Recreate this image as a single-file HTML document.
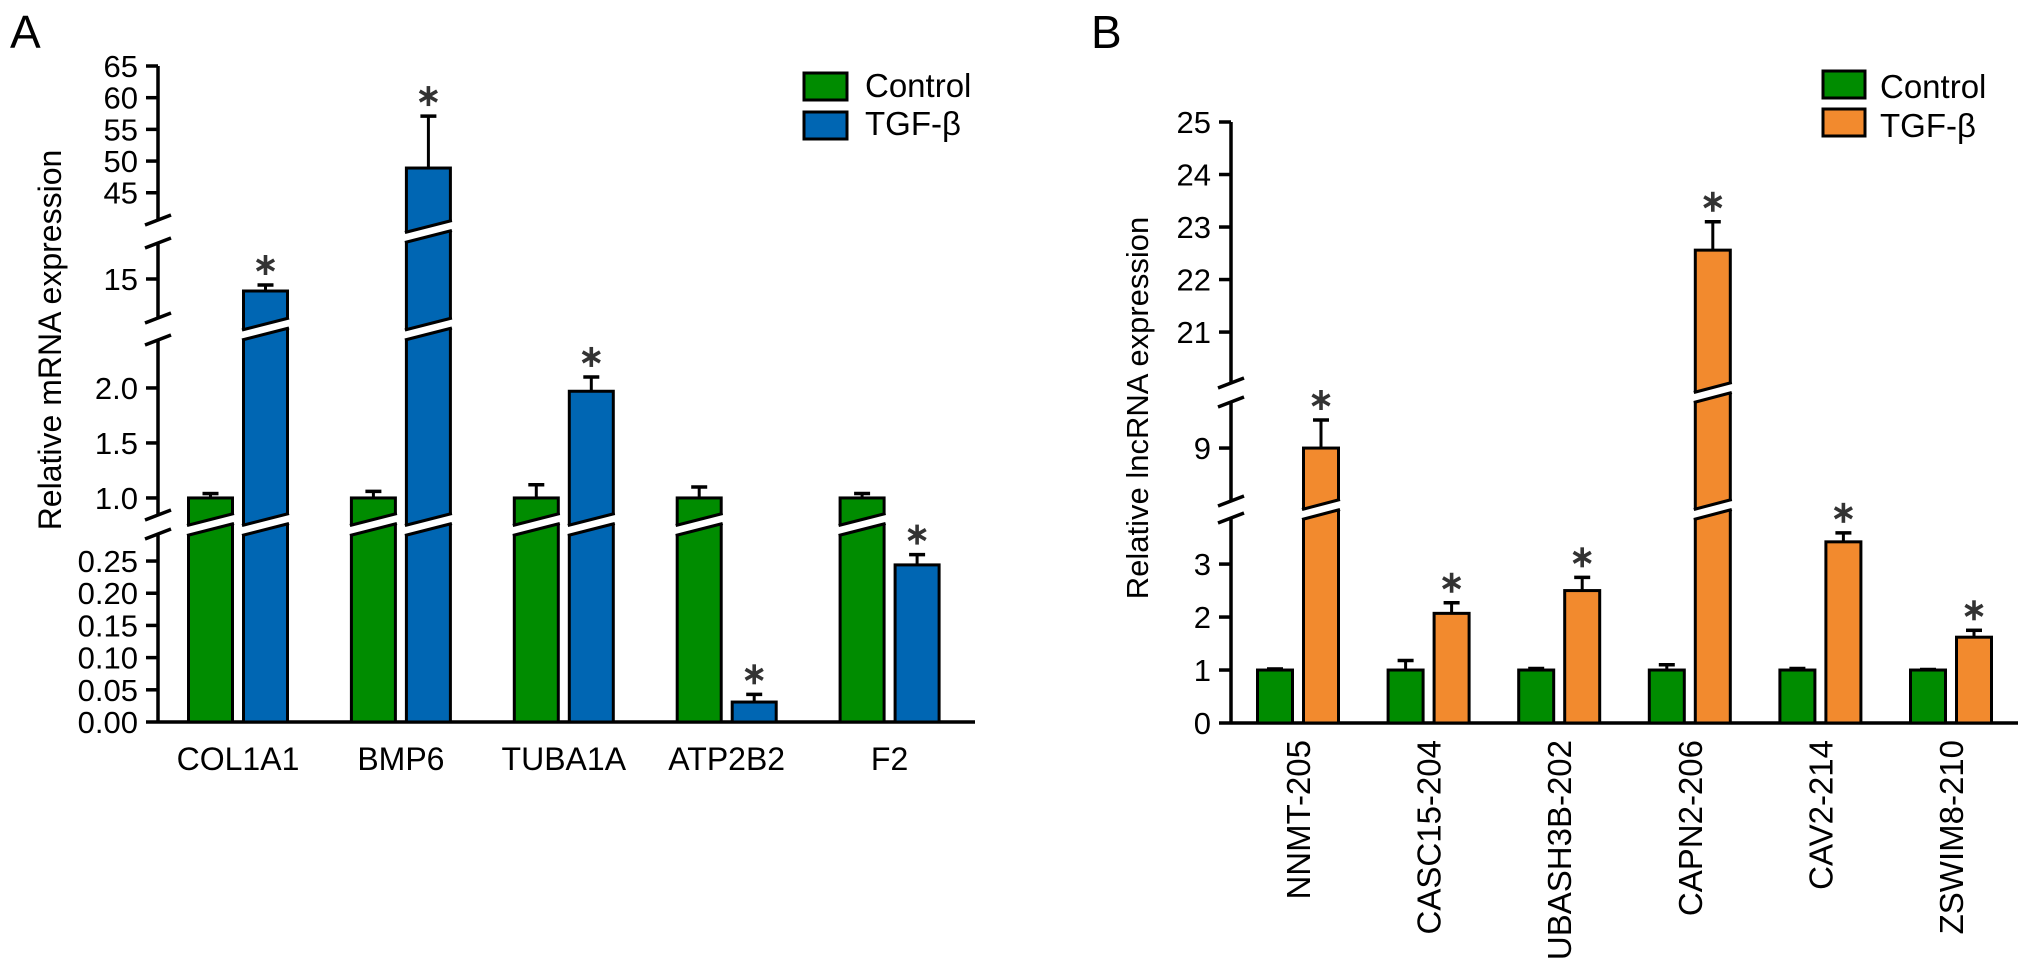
<!DOCTYPE html>
<html><head><meta charset="utf-8"><style>
html,body{margin:0;padding:0;background:#fff}
svg{display:block;font-family:"Liberation Sans",Arial,sans-serif}
</style></head><body>
<svg id="fig" width="2032" height="969" viewBox="0 0 2032 969" xmlns="http://www.w3.org/2000/svg">
<text x="10" y="48" font-size="46">A</text>
<text x="1091" y="48" font-size="46">B</text>
<text transform="translate(61,340) rotate(-90)" text-anchor="middle" font-size="32">Relative mRNA expression</text>
<text transform="translate(1148,408) rotate(-90)" text-anchor="middle" font-size="31">Relative lncRNA expression</text>
<g>
<rect x="804" y="73" width="43" height="27" fill="#008c00" stroke="#000" stroke-width="3"/>
<text x="865" y="97" font-size="33">Control</text>
<rect x="804" y="112" width="43" height="27" fill="#0066b3" stroke="#000" stroke-width="3"/>
<text x="865" y="135" font-size="33">TGF-β</text>
</g>
<g>
<rect x="1823" y="71" width="42" height="27" fill="#008c00" stroke="#000" stroke-width="3"/>
<text x="1880" y="98" font-size="33">Control</text>
<rect x="1823" y="109" width="42" height="27" fill="#f28a2e" stroke="#000" stroke-width="3"/>
<text x="1880" y="137" font-size="33">TGF-β</text>
</g>
<g id="chartA"></g>
<g id="chartB"></g>
</svg>
<script>
// Panel A data
const catsA = ["COL1A1","BMP6","TUBA1A","ATP2B2","F2"];
const ctrlA = [1.0, 1.0, 1.0, 1.0, 1.0];
const ctrlErrA = [0.04, 0.06, 0.12, 0.10, 0.04];
const tgfA = [14.0, 48.9, 1.97, 0.031, 0.244];
const tgfErrA = [0.5, 8.2, 0.13, 0.012, 0.016];
const sigA = [true, true, true, true, true];
const ticksA = [0, 0.05, 0.10, 0.15, 0.20, 0.25, 1.0, 1.5, 2.0, 15, 45, 50, 55, 60, 65];
const tickLabelsA = ["0.00","0.05","0.10","0.15","0.20","0.25","1.0","1.5","2.0","15","45","50","55","60","65"];
// Panel B data
const catsB = ["NNMT-205","CASC15-204","UBASH3B-202","CAPN2-206","CAV2-214","ZSWIM8-210"];
const ctrlB = [1, 1, 1, 1, 1, 1];
const ctrlErrB = [0.02, 0.18, 0.03, 0.10, 0.03, 0.01];
const tgfB = [9.0, 2.07, 2.5, 22.56, 3.42, 1.62];
const tgfErrB = [0.53, 0.2, 0.25, 0.54, 0.17, 0.13];
const sigB = [true, true, true, true, true, true];
const ticksB = [0, 1, 2, 3, 9, 21, 22, 23, 24, 25];
const tickLabelsB = ["0","1","2","3","9","21","22","23","24","25"];

const NS = "http://www.w3.org/2000/svg";
function mk(tag, attrs, parent){const e=document.createElementNS(NS,tag);for(const k in attrs)e.setAttribute(k,attrs[k]);parent.appendChild(e);return e;}

// segmented axis: [lo, hi, yLo, yHi]
const segA = [[0,0.292,722,534],[0.845,2.436,515,340],[11.75,18,318,243],[40.7,65,220,66]];
const segB = [[0,3.87,723,518],[8.0,9.87,501,402],[20.03,25,383,122]];
function yScale(segs){
  return function(v){
    for(let i=segs.length-1;i>=0;i--){const s=segs[i];if(v>=s[0]||i===0){return s[2]+(v-s[0])*(s[3]-s[2])/(s[1]-s[0]);}}
  };
}
function breaks(segs){const b=[];for(let i=0;i<segs.length-1;i++){b.push({top:segs[i+1][2],bot:segs[i][3],mid:(segs[i+1][2]+segs[i][3])/2});}return b;}

function asterisk(g,cx,cy,name){
  const p=mk("g",{},g);
  
  
  for(let a=0;a<3;a++){const ang=Math.PI/2+a*Math.PI/3;const dx=Math.cos(ang)*10,dy=Math.sin(ang)*10;
    mk("line",{x1:cx-dx,y1:cy-dy,x2:cx+dx,y2:cy+dy,stroke:"#333","stroke-width":3.6},p);}
}

function drawPanel(g, cats, ctrl, ctrlErr, tgf, tgfErr, sig, ticks, tickLabels, segs, cfg){
  const y=yScale(segs), brk=breaks(segs);
  const ax=cfg.ax, base=segs[0][2];
  // axis segments
  segs.forEach((s,i)=>{const l=mk("line",{x1:ax,y1:s[2]+(i===0?1.5:0),x2:ax,y2:s[3],stroke:"#000","stroke-width":3.5},g);
    });
  brk.forEach(b=>{
    [b.bot,b.top].forEach(yy=>{const l=mk("line",{x1:ax-13,y1:yy+5,x2:ax+13,y2:yy-5,stroke:"#000","stroke-width":3.5},g);
      });
  });
  const xa=mk("line",{x1:ax,y1:base,x2:cfg.xEnd,y2:base,stroke:"#000","stroke-width":3.5},g);
  
  ticks.forEach((t,i)=>{const yy=y(t);
    const tl=mk("line",{x1:ax-12,y1:yy,x2:ax,y2:yy,stroke:"#000","stroke-width":3.5},g);
    
    const tx=mk("text",{x:ax-20,y:yy+11,"text-anchor":"end","font-size":cfg.tickFont},g);tx.textContent=tickLabels[i];
    
  });
  function bar(cx,v,err,color,name,star){
    const w=cfg.bw,xl=cx-w/2,xr=cx+w/2,yt=y(v),ye=y(v+err);
    const eg=mk("g",{},g);
    
    mk("line",{x1:cx,y1:yt,x2:cx,y2:ye,stroke:"#000","stroke-width":3},eg);
    mk("line",{x1:cx-8,y1:ye,x2:cx+8,y2:ye,stroke:"#000","stroke-width":3.5},eg);
    const r=mk("rect",{x:xl,y:yt,width:w,height:base-yt,fill:color,stroke:"#000","stroke-width":3},g);
    
    brk.forEach(b=>{ if(yt<b.mid-8){
      const h=cfg.rise, gap=5, m=b.mid;
      const pg=mk("polygon",{points:`${xl-4},${m-gap+h/2} ${xr+4},${m-gap-h/2} ${xr+4},${m+gap-h/2} ${xl-4},${m+gap+h/2}`,fill:"#fff"},g);
      
      mk("line",{x1:xl-1.5,y1:m-gap+h/2,x2:xr+1.5,y2:m-gap-h/2,stroke:"#000","stroke-width":3},g);
      mk("line",{x1:xl-1.5,y1:m+gap+h/2,x2:xr+1.5,y2:m+gap-h/2,stroke:"#000","stroke-width":3},g);
    }});
    if(star) asterisk(g,cx,ye-20,name+'-significance');
  }
  cats.forEach((c,i)=>{
    const gx=cfg.x0+i*cfg.pitch;
    bar(gx,ctrl[i],ctrlErr[i],"#008c00","bar-control-"+c.toLowerCase(),false);
    bar(gx+cfg.off,tgf[i],tgfErr[i],cfg.tcolor,"bar-tgf-"+c.toLowerCase(),sig[i]);
    const lx=gx+cfg.off/2;
    let t;
    if(cfg.rot){t=mk("text",{transform:`translate(${lx+12},${cfg.labY}) rotate(-90)`,"text-anchor":"end","font-size":33},g);}
    else{t=mk("text",{x:lx,y:cfg.labY,"text-anchor":"middle","font-size":32},g);}
    t.textContent=c;
    
    
  });
}
drawPanel(document.getElementById("chartA"),catsA,ctrlA,ctrlErrA,tgfA,tgfErrA,sigA,ticksA,tickLabelsA,segA,
  {ax:158,xEnd:975,x0:210.5,pitch:162.9,off:55,bw:44,rise:12,tcolor:"#0066b3",tickFont:31,labY:770,rot:false});
drawPanel(document.getElementById("chartB"),catsB,ctrlB,ctrlErrB,tgfB,tgfErrB,sigB,ticksB,tickLabelsB,segB,
  {ax:1231,xEnd:2018,x0:1275,pitch:130.6,off:46,bw:35,rise:10,tcolor:"#f28a2e",tickFont:31,labY:740,rot:true});
</script>
</body></html>
